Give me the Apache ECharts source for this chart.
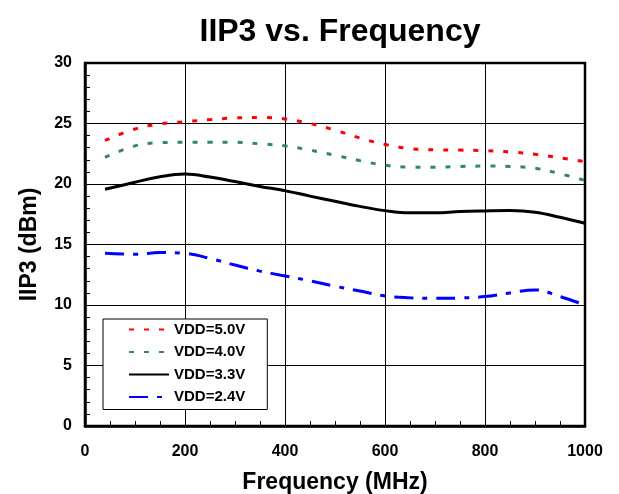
<!DOCTYPE html>
<html>
<head>
<meta charset="utf-8">
<script src="https://cdn.jsdelivr.net/npm/echarts@6/dist/echarts.min.js"></script>
<style>html,body{margin:0;padding:0;background:#fff}#c{width:619px;height:494px}</style>
</head>
<body>
<div id="c"></div>
<script>
var freq = [40, 100, 150, 200, 250, 300, 350, 400, 450, 500, 550, 600, 650, 700, 750, 800, 850, 900, 950, 1000];
var vdd50 = [23.6, 24.55, 24.97, 25.15, 25.32, 25.46, 25.5, 25.38, 25.0, 24.45, 23.8, 23.27, 22.93, 22.82, 22.8, 22.75, 22.65, 22.46, 22.17, 21.85];
var vdd40 = [22.2, 23.15, 23.42, 23.45, 23.45, 23.45, 23.32, 23.15, 22.8, 22.38, 21.93, 21.55, 21.39, 21.38, 21.45, 21.48, 21.45, 21.3, 20.85, 20.3];
var vdd33 = [19.56, 20.15, 20.6, 20.82, 20.58, 20.2, 19.8, 19.45, 19.0, 18.57, 18.15, 17.8, 17.62, 17.62, 17.72, 17.77, 17.8, 17.67, 17.25, 16.75];
var vdd24 = [14.27, 14.2, 14.33, 14.27, 13.85, 13.3, 12.8, 12.4, 12.0, 11.55, 11.15, 10.75, 10.6, 10.55, 10.58, 10.7, 11.0, 11.25, 10.7, 10.0];
var seriesNames = ['VDD=5.0V', 'VDD=4.0V', 'VDD=3.3V', 'VDD=2.4V'];
var xTicks = [0, 200, 400, 600, 800, 1000];
var yTicks = [0, 5, 10, 15, 20, 25, 30];

function pairs(ys) { return freq.map(function (f, i) { return [f, ys[i]]; }); }

var FONT = 'Liberation Sans, Arial, sans-serif';
var chart = echarts.init(document.getElementById('c'), null, { renderer: 'canvas' });
var lineDefs = [
  { data: vdd50, color: '#ff0000', type: [5, 10] },
  { data: vdd40, color: '#2e8b57', type: [5, 10] },
  { data: vdd33, color: '#000000', type: 'solid' },
  { data: vdd24, color: '#0000ff', type: [19, 9, 5, 9] }
];
chart.setOption({
  animation: false,
  title: {
    text: 'IIP3 vs. Frequency',
    left: 335, top: 11, textAlign: 'center',
    textStyle: { fontFamily: FONT, fontWeight: 'bold', fontSize: 32, color: '#000' }
  },
  grid: { left: 85, right: 34, top: 63, bottom: 68, outerBoundsMode: 'none', containLabel: false,
    show: true, borderColor: '#000', borderWidth: 2.5, backgroundColor: 'transparent' },
  legend: {
    orient: 'vertical', left: 103, top: 319,
    data: seriesNames,
    itemWidth: 40, itemHeight: 14, itemGap: 7.5,
    padding: [3, 22, 5, 25],
    borderColor: '#000', borderWidth: 1, backgroundColor: '#fff',
    itemStyle: { opacity: 0 },
    textStyle: { fontFamily: FONT, fontWeight: 'bold', fontSize: 15, color: '#000' }
  },
  xAxis: {
    type: 'value', min: xTicks[0], max: xTicks[xTicks.length - 1], interval: 200,
    name: 'Frequency (MHz)', nameLocation: 'middle', nameGap: 45,
    nameTextStyle: { fontFamily: FONT, fontWeight: 'bold', fontSize: 23, color: '#000' },
    axisLine: { show: true, lineStyle: { color: '#000', width: 2.5 } },
    axisTick: { show: true, inside: true, length: 5, lineStyle: { color: '#000' } },
    minorTick: { show: true, splitNumber: 4, length: 5, lineStyle: { color: '#000', width: 1 } },
    splitLine: { show: true, lineStyle: { color: '#000', width: 1 } },
    axisLabel: { margin: 18, fontFamily: FONT, fontWeight: 'bold', fontSize: 16, color: '#000',
      formatter: function (v) { return String(v); } }
  },
  yAxis: {
    type: 'value', min: yTicks[0], max: yTicks[yTicks.length - 1], interval: 5,
    name: 'IIP3 (dBm)', nameLocation: 'middle', nameGap: 44,
    nameTextStyle: { fontFamily: FONT, fontWeight: 'bold', fontSize: 23, color: '#000' },
    axisLine: { show: true, lineStyle: { color: '#000', width: 2.5 } },
    axisTick: { show: true, inside: true, length: 5, lineStyle: { color: '#000' } },
    minorTick: { show: true, splitNumber: 5, length: 5, lineStyle: { color: '#000', width: 1 } },
    splitLine: { show: true, lineStyle: { color: '#000', width: 1 } },
    axisLabel: { margin: 13, fontFamily: FONT, fontWeight: 'bold', fontSize: 16, color: '#000',
      formatter: function (v) { return String(v); } }
  },
  series: lineDefs.map(function (d, i) {
    return {
      name: seriesNames[i], type: 'line', data: pairs(d.data),
      smooth: 0.4, symbol: 'none',
      lineStyle: { color: d.color, width: 3, type: d.type },
      itemStyle: { color: d.color }
    };
  })
});
</script>
</body>
</html>
